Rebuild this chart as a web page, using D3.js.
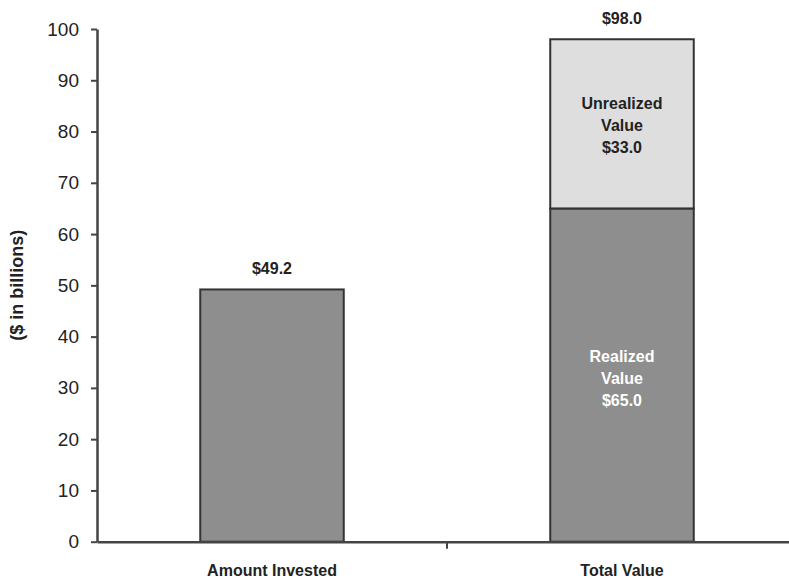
<!DOCTYPE html>
<html><head><meta charset="utf-8">
<script src="https://cdn.jsdelivr.net/npm/d3@7"></script>
<style>body{margin:0;background:#fff;font-family:"Liberation Sans",Arial,sans-serif;}</style>
</head><body><svg id="c" width="789" height="580"></svg>
<script>
const categories = ["Amount Invested", "Total Value"];
const realized = [49.2, 65.0];
const unrealized = [0, 33.0];
const totalLabels = ["$49.2", "$98.0"];
const innerRealizedLabel = ["Realized", "Value", "$65.0"];
const innerUnrealizedLabel = ["Unrealized", "Value", "$33.0"];
const yTicks = [0,10,20,30,40,50,60,70,80,90,100];

const svg = d3.select("#c");
const x0 = 97, x1 = 797, yTop = 29, yBot = 541.7;
const x = d3.scaleBand().domain(categories).range([x0, x1]).paddingInner(0.59).paddingOuter(0.295);
const y = d3.scaleLinear().domain([0, 100]).range([yBot, yTop]);
const dark = "#8e8e8e", light = "#dedede", stroke = "#333";
const fs = 16;

categories.forEach((c, i) => {
  svg.append("rect").attr("x", x(c)).attr("width", x.bandwidth())
    .attr("y", y(realized[i])).attr("height", y(0) - y(realized[i]))
    .attr("fill", dark).attr("stroke", stroke).attr("stroke-width", 2);
  if (unrealized[i] > 0) {
    svg.append("rect").attr("x", x(c)).attr("width", x.bandwidth())
      .attr("y", y(realized[i] + unrealized[i])).attr("height", y(realized[i]) - y(realized[i] + unrealized[i]))
      .attr("fill", light).attr("stroke", stroke).attr("stroke-width", 2);
  }
  const tot = realized[i] + unrealized[i];
  svg.append("text").attr("x", x(c) + x.bandwidth()/2).attr("y", y(tot) - 15)
    .attr("text-anchor", "middle").attr("font-weight", "bold").attr("font-size", fs).attr("fill", "#222")
    .text(totalLabels[i]);
});

const c2 = categories[1];
const cx = x(c2) + x.bandwidth()/2;
innerUnrealizedLabel.forEach((t, k) => {
  svg.append("text").attr("x", cx).attr("y", y(realized[1] + unrealized[1]/2) - 15 + k*22)
    .attr("text-anchor", "middle").attr("font-weight", "bold").attr("font-size", fs).attr("fill", "#222").text(t);
});
innerRealizedLabel.forEach((t, k) => {
  svg.append("text").attr("x", cx).attr("y", y(realized[1]*0.49) - 16 + k*22)
    .attr("text-anchor", "middle").attr("font-weight", "bold").attr("font-size", fs).attr("fill", "#fff").text(t);
});

const ya = svg.append("g").attr("transform", `translate(${x0},0)`)
  .call(d3.axisLeft(y).tickValues(yTicks).tickSize(6).tickSizeOuter(0).tickPadding(12));
ya.select(".domain").attr("stroke", "#444").attr("stroke-width", 2.5);
ya.selectAll(".tick line").attr("stroke", "#444").attr("stroke-width", 2);
ya.selectAll(".tick text").attr("font-size", 19).attr("fill", "#222").attr("font-family", "Liberation Sans, Arial, sans-serif");

const xa = svg.append("g").attr("transform", `translate(0,${yBot})`)
  .call(d3.axisBottom(x).tickSize(0).tickSizeOuter(0).tickPadding(23));
xa.select(".domain").attr("stroke", "#444").attr("stroke-width", 2.5);
xa.selectAll(".tick text").attr("font-size", fs).attr("font-weight", "bold").attr("fill", "#222").attr("font-family", "Liberation Sans, Arial, sans-serif");
svg.append("line").attr("x1", (x0+x1)/2).attr("x2", (x0+x1)/2).attr("y1", yBot).attr("y2", yBot + 7)
  .attr("stroke", "#444").attr("stroke-width", 2);

svg.append("text").attr("transform", `translate(23,${(yTop+yBot)/2}) rotate(-90)`)
  .attr("text-anchor", "middle").attr("font-weight", "bold").attr("font-size", 18).attr("fill", "#222")
  .text("($ in billions)");
</script></body></html>
